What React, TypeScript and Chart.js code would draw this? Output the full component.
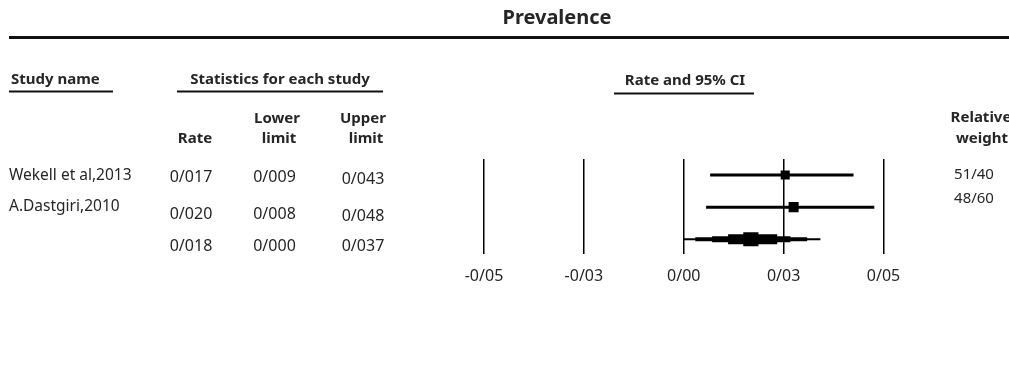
import React, { useEffect, useRef } from "react";
import { Chart, registerables } from "chart.js";

Chart.register(...registerables);

// ---- data ----
const studyNames = ["Wekell et al,2013", "A.Dastgiri,2010"];
const rateLabels = ["0/017", "0/020", "0/018"];
const lowerLabels = ["0/009", "0/008", "0/000"];
const upperLabels = ["0/043", "0/048", "0/037"];
const weightLabels = ["51/40", "48/60"];
const tickValues = [-0.05, -0.025, 0, 0.025, 0.05];
const tickLabels = ["-0/05", "-0/03", "0/00", "0/03", "0/05"];

// plotted marks, in axis units, as drawn in the picture
const studyPoints = [0.0254, 0.0275];
const studyLower = [0.0066, 0.0056];
const studyUpper = [0.0425, 0.0477];
const summaryLower = 0.0;
const summaryUpper = 0.0342;
const summaryBandLower = [0.0029, 0.0071, 0.0111, 0.0149];
const summaryBandUpper = [0.0309, 0.0267, 0.0234, 0.0187];

// ---- styles ----
const FONT = "'Noto Sans', 'DejaVu Sans', sans-serif";
const TEXT = "#262626";
const bandWidths = [4, 6, 10, 14];
const squareRadii = [6.4, 7.1];

const textPlugin = {
  id: "forestText",
  afterDraw(chart: any) {
    const ctx = chart.ctx as CanvasRenderingContext2D;
    ctx.save();
    ctx.fillStyle = TEXT;
    ctx.strokeStyle = "#111";
    ctx.textBaseline = "middle";

    const t = (s: string, x: number, y: number, align: CanvasTextAlign, font: string) => {
      ctx.font = font;
      ctx.textAlign = align;
      ctx.fillText(s, x, y);
    };
    const hline = (x1: number, x2: number, y: number, w: number) => {
      ctx.lineWidth = w;
      ctx.beginPath();
      ctx.moveTo(x1, y);
      ctx.lineTo(x2, y);
      ctx.stroke();
    };
    const bold = (n: number) => `bold ${n}px ${FONT}`;
    const reg = (n: number) => `${n}px ${FONT}`;

    // title and rule
    t("Prevalence", 557, 18, "center", bold(20));
    hline(9, 1009, 37.5, 3);

    // group headers
    t("Study name", 11, 80, "left", bold(15));
    hline(9, 113, 91.5, 2);
    t("Statistics for each study", 280, 80, "center", bold(15));
    hline(177, 383, 91.5, 2);
    t("Rate and 95% CI", 685, 81, "center", bold(15));
    hline(614, 754, 93.5, 2);

    // column headers
    t("Rate", 195, 139, "center", bold(15));
    t("Lower", 277, 119, "center", bold(15));
    t("limit", 279, 139, "center", bold(15));
    t("Upper", 363, 119, "center", bold(15));
    t("limit", 366, 139, "center", bold(15));
    t("Relative", 981, 118, "center", bold(15));
    t("weight", 982, 139, "center", bold(15));

    // rows
    const nameY = [176, 206.5];
    studyNames.forEach((n, i) => t(n, 9, nameY[i], "left", reg(15.5)));
    const valY = [177, 214, 246];
    const upY = [179.5, 216.5, 246];
    rateLabels.forEach((s, i) => t(s, 191, valY[i], "center", reg(16)));
    lowerLabels.forEach((s, i) => t(s, 274.5, valY[i], "center", reg(16)));
    upperLabels.forEach((s, i) => t(s, 363, upY[i], "center", reg(16)));
    const wY = [175, 199];
    weightLabels.forEach((s, i) => t(s, 974, wY[i], "center", reg(15)));

    ctx.restore();
  },
};

export default function App() {
  const ref = useRef<HTMLCanvasElement | null>(null);

  useEffect(() => {
    if (!ref.current) return;

    const squares: any = {
      type: "scatter",
      data: studyPoints.map((x, i) => ({ x, y: i + 1 })),
      pointStyle: "rect",
      pointRadius: squareRadii,
      backgroundColor: "#000",
      borderWidth: 0,
      showLine: false,
    };
    const whiskers: any[] = studyPoints.map((_, i) => ({
      type: "line",
      data: [
        { x: studyLower[i], y: i + 1 },
        { x: studyUpper[i], y: i + 1 },
      ],
      borderColor: "#000",
      borderWidth: 3,
      borderCapStyle: "butt",
      pointRadius: 0,
      showLine: true,
    }));
    const bands: any[] = summaryBandLower.map((lo, i) => ({
      type: "line",
      data: [
        { x: lo, y: 3 },
        { x: summaryBandUpper[i], y: 3 },
      ],
      borderColor: "#000",
      borderWidth: bandWidths[i],
      borderCapStyle: "butt",
      pointRadius: 0,
      showLine: true,
    }));
    const summaryLine: any = {
      type: "line",
      data: [
        { x: summaryLower, y: 3 },
        { x: summaryUpper, y: 3 },
      ],
      borderColor: "#000",
      borderWidth: 2,
      borderCapStyle: "butt",
      pointRadius: 0,
      showLine: true,
    };

    const chart = new Chart(ref.current, {
      type: "scatter",
      data: { datasets: [squares, ...whiskers, ...bands, summaryLine] },
      options: {
        responsive: false,
        animation: false,
        events: [],
        layout: { padding: { left: 484, right: 125.5, top: 159, bottom: 77 } },
        plugins: {
          legend: { display: false },
          tooltip: { enabled: false },
          title: { display: false },
        },
        scales: {
          x: {
            type: "linear",
            min: -0.05,
            max: 0.05,
            afterBuildTicks: (s: any) => {
              s.ticks = tickValues.map((v) => ({ value: v }));
            },
            afterFit: (s: any) => {
              s.height = 40;
            },
            grid: { color: "#000", lineWidth: 1.5, drawTicks: false },
            border: { display: false },
            ticks: {
              padding: 13,
              color: TEXT,
              font: { family: FONT, size: 16 },
              maxRotation: 0,
              callback: (_v: any, i: number) => tickLabels[i],
            },
          },
          y: { type: "linear", min: 0.5, max: 3.46, reverse: true, display: false },
        },
      } as any,
      plugins: [textPlugin],
    });
    return () => chart.destroy();
  }, []);

  return (
    <div style={{ position: "absolute", left: 0, top: 0, width: 1009, height: 371, background: "#fff" }}>
      <canvas ref={ref} width={1009} height={371} />
    </div>
  );
}
